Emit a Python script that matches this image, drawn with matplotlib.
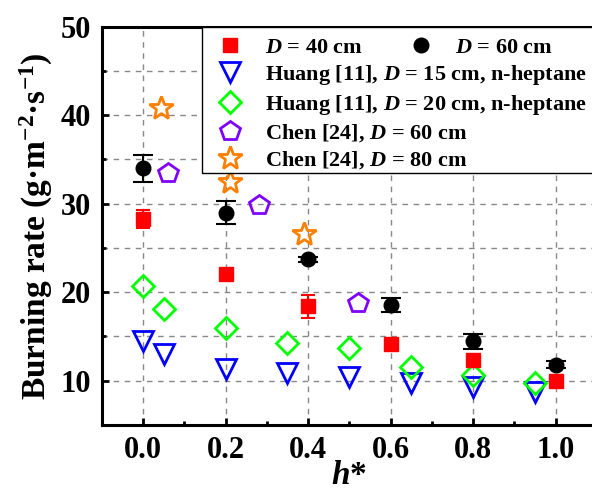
import matplotlib
matplotlib.use("Agg")
import matplotlib.pyplot as plt
from matplotlib.lines import Line2D
from matplotlib.patches import Rectangle
from matplotlib.ticker import MultipleLocator

plt.rcParams['font.family'] = 'Liberation Serif'
plt.rcParams['font.weight'] = 'bold'
plt.rcParams['axes.labelweight'] = 'bold'
plt.rcParams['mathtext.fontset'] = 'custom'
plt.rcParams['mathtext.rm'] = 'Liberation Serif:bold'
plt.rcParams['mathtext.bf'] = 'Liberation Serif:bold'
plt.rcParams['mathtext.it'] = 'Liberation Serif:italic:bold'

# this work
h40 = [0.0, 0.2, 0.4, 0.6, 0.8, 1.0]
r40 = [28.3, 22.1, 18.4, 14.1, 12.3, 10.0]
e40 = [1.0, 0.4, 1.3, 0.5, 0.6, 0.6]

h60 = [0.0, 0.2, 0.4, 0.6, 0.8, 1.0]
r60 = [34.0, 29.0, 23.7, 18.6, 14.45, 11.8]
e60 = [1.5, 1.3, 0.3, 0.8, 0.85, 0.4]

# Huang [11]
h_hu = [0.0, 0.05, 0.2, 0.35, 0.5, 0.65, 0.8, 0.95]
r_hu15 = [14.5, 13.0, 11.3, 10.9, 10.4, 9.8, 9.25, 8.7]
r_hu20 = [20.7, 18.1, 16.0, 14.3, 13.7, 11.5, 10.6, 9.8]

# Chen [24]
h_ch60 = [0.06, 0.28, 0.52]
r_ch60 = [33.5, 29.9, 18.75]
h_ch80 = [0.044, 0.21, 0.39]
r_ch80 = [40.8, 32.5, 26.6]

W, H = 592, 495
fig = plt.figure(figsize=(W / 100, H / 100), dpi=100)
ax = fig.add_axes([101.7 / W, 1 - 425 / H, (597 - 101.7) / W, (425 - 26.7) / H])

ax.errorbar(h40, r40, yerr=e40, fmt='s', color='red', ms=10, capsize=5,
            elinewidth=1.5, capthick=1.5, zorder=4)
ax.errorbar(h60, r60, yerr=e60, fmt='o', color='black', ms=10.5, capsize=7,
            elinewidth=1.5, capthick=1.5, zorder=4)
ax.plot(h_hu, r_hu15, 'v', ms=14, mfc='none', mec='#0000ff', mew=2, zorder=3)
ax.plot(h_hu, r_hu20, 'D', ms=11, mfc='none', mec='#00ff00', mew=2, zorder=3)
ax.plot(h_ch60, r_ch60, 'p', ms=15, mfc='none', mec='#8000ff', mew=2, zorder=3)
ax.plot(h_ch80, r_ch80, '*', ms=18, mfc='none', mec='#ff7f00', mew=2, zorder=3)

ax.set_xlim(-0.1, 1.1)
ax.set_ylim(5, 50)
ax.xaxis.set_major_locator(MultipleLocator(0.2))
ax.xaxis.set_minor_locator(MultipleLocator(0.1))
ax.yaxis.set_major_locator(MultipleLocator(10))
ax.yaxis.set_minor_locator(MultipleLocator(5))
ax.tick_params(which='both', direction='in', width=2, labelsize=22, pad=8,
               top=False, right=False)
ax.tick_params(which='major', length=5)
ax.tick_params(which='minor', length=3)
for s in ax.spines.values():
    s.set_linewidth(2.2)

ax.grid(True, which='major', axis='x', ls=(0, (4, 4)), color='#888888', lw=1)
ax.grid(True, which='both', axis='y', ls=(0, (4, 4)), color='#888888', lw=1)
ax.set_axisbelow(True)

ax.set_xlabel(r'$h$*', fontsize=24, labelpad=-4)
ax.set_ylabel(r'Burning rate (g·m$^{\mathbf{-2}}$·s$^{\mathbf{-1}}$)', fontsize=24, labelpad=4)

# legend frame (extends past the right edge like the original)
frame = Rectangle((0.2023, 0.633), 0.9, 0.367, transform=ax.transAxes,
                  facecolor='white', edgecolor='black', lw=1.0, zorder=4.9,
                  clip_on=False)
ax.add_patch(frame)

handles = [
    Line2D([], [], ls='none', marker='s', ms=10, color='red'),
    Line2D([], [], ls='none', marker='v', ms=14, mfc='none', mec='#0000ff', mew=2),
    Line2D([], [], ls='none', marker='D', ms=11, mfc='none', mec='#00ff00', mew=2),
    Line2D([], [], ls='none', marker='p', ms=15, mfc='none', mec='#8000ff', mew=2),
    Line2D([], [], ls='none', marker='*', ms=18, mfc='none', mec='#ff7f00', mew=2),
]
labels = [
    r'$D$ = 40 cm',
    r'Huang [11], $D$ = 15 cm, n-heptane',
    r'Huang [11], $D$ = 20 cm, n-heptane',
    r'Chen [24], $D$ = 60 cm',
    r'Chen [24], $D$ = 80 cm',
]
leg = ax.legend(handles, labels, loc='upper left', bbox_to_anchor=(0.2023, 1.0),
                borderaxespad=0, fontsize=16, frameon=False, labelspacing=0.24,
                handletextpad=0.75, borderpad=0.48, handlelength=1.6)
ax.add_artist(leg)

leg2 = ax.legend([Line2D([], [], ls='none', marker='o', ms=10.5, color='black')],
                 [r'$D$ = 60 cm'], loc='upper left', bbox_to_anchor=(0.587, 1.0),
                 borderaxespad=0, fontsize=16, frameon=False,
                 handletextpad=0.75, borderpad=0.48, handlelength=1.6)

fig.savefig('out.png', dpi=100)
